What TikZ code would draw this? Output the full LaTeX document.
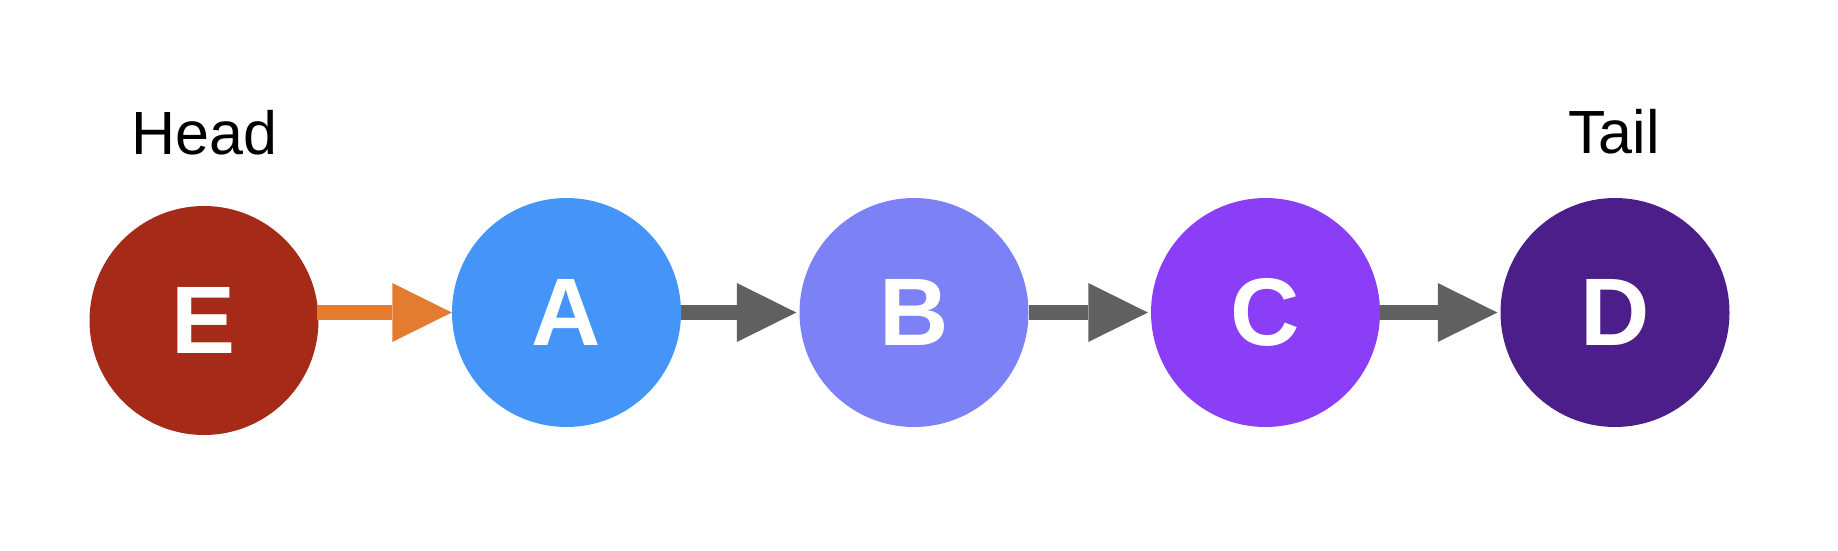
\documentclass[tikz,border=0pt]{standalone}
\usepackage{fontspec}
\setmainfont{Liberation Sans}
\usetikzlibrary{arrows.meta,positioning}

\definecolor{colE}{HTML}{A52A17}
\definecolor{colA}{HTML}{4495F7}
\definecolor{colB}{HTML}{7C82F6}
\definecolor{colC}{HTML}{8A3FF6}
\definecolor{colD}{HTML}{4C1E8A}
\definecolor{linkorange}{HTML}{E37B31}
\definecolor{linkgray}{HTML}{606060}

\begin{document}
\begin{tikzpicture}[x=1pt, y=-1pt,
  item/.style={circle, minimum size=229pt, inner sep=0pt, text=white,
               font=\fontsize{96}{96}\selectfont\bfseries},
  link/.style={line width=15.7pt, -{Triangle[length=59.5pt, width=59pt, line width=0pt]}},
  tag/.style={font=\fontsize{61}{61}\selectfont}]
\useasboundingbox (0,0) rectangle (1838,550);
% the list
\node[item, fill=colE] (E) at (204,320.5) {E};
\node[item, fill=colA] (A) at (566.5,312.5) {A};
\node[item, fill=colB] (B) at (914,312.5) {B};
\node[item, fill=colC] (C) at (1265.5,312.5) {C};
\node[item, fill=colD] (D) at (1615,312.5) {D};
\node[tag] (head) at (204.5,133) {Head};
\node[tag] (tail) at (1614,131.5) {Tail};
% pointers
\draw[link, linkorange, shorten <=-2pt] (E.east |- A) -- (A);
\foreach \a/\b in {A/B, B/C, C/D}
  \draw[link, linkgray, shorten >=3pt] (\a) -- (\b);
\end{tikzpicture}
\end{document}
